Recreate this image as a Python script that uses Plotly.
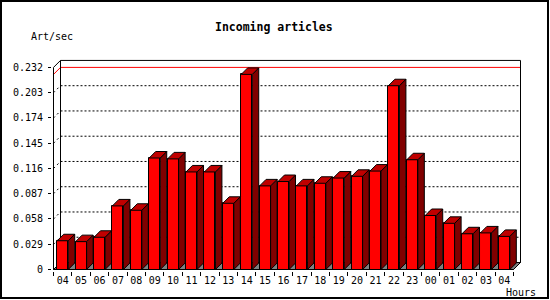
import plotly.graph_objects as go

# ---------------- data ----------------
hours = ["04", "05", "06", "07", "08", "09", "10", "11", "12", "13", "14", "15",
         "16", "17", "18", "19", "20", "21", "22", "23", "00", "01", "02", "03", "04"]
rates = [0.033, 0.032, 0.037, 0.073, 0.068, 0.128, 0.127, 0.112, 0.112, 0.076,
         0.224, 0.096, 0.101, 0.096, 0.099, 0.105, 0.107, 0.113, 0.211, 0.126,
         0.062, 0.053, 0.041, 0.042, 0.038]
ytick_vals = [0, 0.029, 0.058, 0.087, 0.116, 0.145, 0.174, 0.203, 0.232]
ytick_text = ["0", "0.029", "0.058", "0.087", "0.116", "0.145", "0.174", "0.203", "0.232"]
title_text = "Incoming articles"
y_unit = "Art/sec"
x_unit = "Hours"

# ---------------- geometry ----------------
FW, FH = 550, 300
L, R, T, B = 52, 522, 59, 271          # plot area in px
PX, PY = 18.4, 871.0                    # px per unit
X0PX, Y0PX = 53.5, 269.5                # px of x=-0.5 and y=0


def xv(px):
    return -0.5 + (px - X0PX) / PX


def yv(py):
    return (Y0PX - py) / PY


def paper_x(px):
    return (px - L) / (R - L)


def paper_y(py):
    return (B - py) / (B - T)


BAR_W = 0.6
bdx, bdy = 6.5 / PX, 6.5 / PY           # bar depth
wdx, wdy = 7.0 / PX, 7.0 / PY           # wall depth
n = len(rates)
xs = list(range(n))
xl, xr = -0.5, n - 0.5
ymax_axis = ytick_vals[-1]

FONT = "DejaVu Sans Mono"
RED, TOP, SIDE = "#ff0000", "#c00000", "#800000"

# ---------------- traces ----------------
fig = go.Figure()

fig.add_trace(go.Bar(
    x=xs, y=rates, width=BAR_W, base=0,
    marker=dict(color=RED, line=dict(color="black", width=1)),
    hoverinfo="skip", showlegend=False))

side_x, side_y, top_x, top_y = [], [], [], []
for x, v in zip(xs, rates):
    a, b = x - BAR_W / 2, x + BAR_W / 2
    side_x += [b, b + bdx, b + bdx, b, b, None]
    side_y += [0, bdy, v + bdy, v, 0, None]
    top_x += [a, a + bdx, b + bdx, b, a, None]
    top_y += [v, v + bdy, v + bdy, v, v, None]

fig.add_trace(go.Scatter(x=side_x, y=side_y, mode="lines", fill="toself",
                         fillcolor=SIDE, line=dict(color="black", width=1),
                         hoverinfo="skip", showlegend=False))
fig.add_trace(go.Scatter(x=top_x, y=top_y, mode="lines", fill="toself",
                         fillcolor=TOP, line=dict(color="black", width=1),
                         hoverinfo="skip", showlegend=False))

# ---------------- background shapes ----------------
shapes = []


def seg(x0, y0, x1, y1, color="black", dash=None, width=1, layer="below"):
    ln = dict(color=color, width=width)
    if dash:
        ln["dash"] = dash
    shapes.append(dict(type="line", xref="x", yref="y", x0=x0, y0=y0, x1=x1, y1=y1,
                       line=ln, layer=layer))


# floor
shapes.append(dict(type="path", xref="x", yref="y", layer="below",
                   path=f"M {xl},0 L {xr},0 L {xr + wdx},{wdy} L {xl + wdx},{wdy} Z",
                   fillcolor="#808080", line=dict(color="black", width=1)))

# back-wall dotted grid lines
for v in ytick_vals[1:-1]:
    seg(xl + wdx, v + wdy, xr + wdx, v + wdy, dash="2px,2px")
    seg(xl, v, xl + wdx, v + wdy, dash="2px,3px")

# max line (red)
vmax = max(rates)
seg(xl + wdx, vmax + wdy, xr + wdx, vmax + wdy, color=RED)
seg(xl, vmax, xl + wdx, vmax + wdy, color=RED)

# frame
seg(xl + wdx, wdy, xl + wdx, ymax_axis + wdy)                  # back left
seg(xl + wdx, ymax_axis + wdy, xr + wdx, ymax_axis + wdy)      # back top
seg(xr + wdx, wdy, xr + wdx, ymax_axis + wdy)                  # back right
seg(xl, ymax_axis, xl + wdx, ymax_axis + wdy)                  # top-left diagonal
seg(xl, 0, xl, ymax_axis, layer="above")                       # front left axis
seg(xl, 0, xr, 0, layer="above")                               # front bottom axis
seg(xr, 0, xr + wdx, wdy, layer="above")                       # bottom-right diagonal

# outer border of image
shapes.append(dict(type="rect", xref="paper", yref="paper",
                   x0=paper_x(1), x1=paper_x(548), y0=paper_y(298), y1=paper_y(1),
                   line=dict(color="black", width=2), layer="above"))

annotations = [
    dict(text=f"<b>{title_text}</b>", xref="paper", yref="paper",
         x=paper_x(274), y=paper_y(27.5), xanchor="center", yanchor="middle",
         showarrow=False, font=dict(family=FONT, size=11.5, color="black")),
    dict(text=y_unit, xref="paper", yref="paper",
         x=paper_x(29), y=paper_y(37), xanchor="left", yanchor="middle",
         showarrow=False, font=dict(family=FONT, size=10, color="black")),
    dict(text=x_unit, xref="paper", yref="paper",
         x=paper_x(504), y=paper_y(292), xanchor="left", yanchor="middle",
         showarrow=False, font=dict(family=FONT, size=10, color="black")),
]

fig.update_layout(
    width=FW, height=FH,
    margin=dict(l=L, r=FW - R, t=T, b=FH - B, pad=0),
    paper_bgcolor="white", plot_bgcolor="white",
    shapes=shapes, annotations=annotations,
    showlegend=False, bargap=0,
    font=dict(family=FONT, size=10, color="black"),
    xaxis=dict(range=[xv(L), xv(R)], showgrid=False, zeroline=False, showline=False,
               tickmode="array", tickvals=xs, ticktext=hours, ticks="",
               ticklabelstandoff=2,
               tickfont=dict(family=FONT, size=10, color="black"),
               minor=dict(ticks="outside", ticklen=4, tickcolor="black", tickwidth=1,
                          tickmode="linear", tick0=-0.5, dtick=1, showgrid=False),
               fixedrange=True),
    yaxis=dict(range=[yv(B), yv(T)], showgrid=False, zeroline=False, showline=False,
               tickmode="array", tickvals=ytick_vals, ticktext=ytick_text,
               ticks="outside", ticklen=3, tickcolor="black", tickwidth=1,
               ticklabelstandoff=3,
               tickfont=dict(family=FONT, size=10, color="black"),
               fixedrange=True),
)

fig.write_html("out.html", config=dict(displayModeBar=False))
